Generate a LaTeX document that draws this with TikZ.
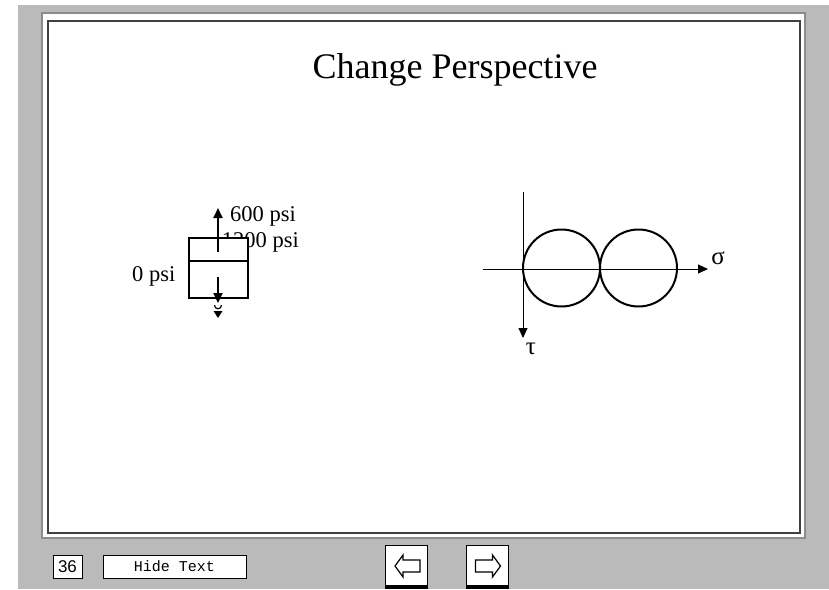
\documentclass[tikz,border=0pt]{standalone}
\usepackage{fontspec}
\setmainfont{Liberation Serif}
\newfontfamily\monofont{Liberation Mono}
\newfontfamily\labelfont{Liberation Sans}
\usetikzlibrary{positioning,arrows.meta,calc}
\definecolor{screen}{RGB}{186,186,186}

\begin{document}
\begin{tikzpicture}[x=1pt,y=-1pt,font=\fontsize{22.5}{25}\selectfont,
    psi/.style={inner sep=0pt},
    button/.style={draw,fill=white,line width=1pt,inner sep=0pt},
    bar/.style={line width=2pt},
    tip/.style={-{Triangle[length=10pt,width=9pt]}},
    navarrow/.style={draw,fill=white,line width=1.2pt,line join=miter}]
  \useasboundingbox (0,0) rectangle (829,589);
  % screen and slide panel
  \fill[screen] (18,5) rectangle (829,589);
  \draw[fill=white,draw=black!45,line width=1.5pt] (42,13) rectangle (805,538);
  \draw[black!75,line width=2pt] (48,21) rectangle (800,533);
  \node[anchor=base,font=\fontsize{36}{40}\selectfont] (title) at (455,78) {Change Perspective};
  % stress element: label behind the block, block covers part of it
  \node[psi,anchor=base east] (lower) at (299,247) {1200 psi};
  \node[draw,fill=white,line width=2pt,minimum width=59pt,minimum height=60pt,inner sep=0pt]
        (blk) at (218.5,268) {};
  \draw[bar] ($(blk.west)+(0,-7)$) -- ($(blk.east)+(0,-7)$);
  \node[psi,anchor=base west] (upper) at (230,221) {600 psi};
  \node[psi,anchor=base west] (side) at (132,281) {0 psi};
  \coordinate (up0) at (218,252);
  \coordinate (up1) at (218,208);
  \draw[bar,tip] (up0) -- (up1);
  \coordinate (dn0) at (218,277);
  \coordinate (dn1) at (218,303);
  \draw[bar,tip] (dn0) -- (dn1);
  \draw[line width=1.2pt] (214.5,305) .. controls (214.5,310) and (221.5,310) .. (221.5,305);
  \fill (213.5,311) -- (222.5,311) -- (218,318) -- cycle;
  % Mohr circles
  \coordinate (tau0) at (523,192);
  \coordinate (tau1) at (523,338);
  \coordinate (sig0) at (483,269);
  \coordinate (sig1) at (708,269);
  \draw[line width=1pt,tip] (tau0) -- (tau1);
  \draw[line width=1pt,tip] (sig0) -- (sig1);
  \draw[line width=2pt] (561.5,268) circle[radius=38.5pt];
  \draw[line width=2pt] (638.5,268) circle[radius=38.5pt];
  \node[font=\fontsize{25}{26}\selectfont] (sigma) at (718,258) {σ};
  \node[font=\fontsize{25}{26}\selectfont] (tau) at (531,349) {τ};
  % navigation bar
  \node[button,minimum width=29pt,minimum height=23pt,font=\labelfont\fontsize{17}{18}\selectfont]
        (page) at (67.5,566.5) {36};
  \node[button,minimum width=143pt,minimum height=23pt,font=\monofont\fontsize{15}{16}\selectfont]
        (hide) at (174.5,566.5) {Hide Text};
  \node[button,minimum width=42pt,minimum height=40pt] (back) at (406,565) {};
  \node[button,minimum width=42pt,minimum height=40pt] (fwd) at (487.5,565) {};
  \draw[line width=3pt] ($(back.south west)+(0,1.5)$) -- ($(back.south east)+(0,1.5)$);
  \draw[line width=3pt] ($(fwd.south west)+(0,1.5)$) -- ($(fwd.south east)+(0,1.5)$);
  \draw[navarrow] ($(back)+(-11,1)$) -- ++(8,-11) -- ++(0,5) -- ++(17,0) -- ++(0,12)
        -- ++(-17,0) -- ++(0,5) -- cycle;
  \draw[navarrow] ($(fwd)+(13,1)$) -- ++(-8,-11) -- ++(0,5) -- ++(-17,0) -- ++(0,12)
        -- ++(17,0) -- ++(0,5) -- cycle;
\end{tikzpicture}
\end{document}
